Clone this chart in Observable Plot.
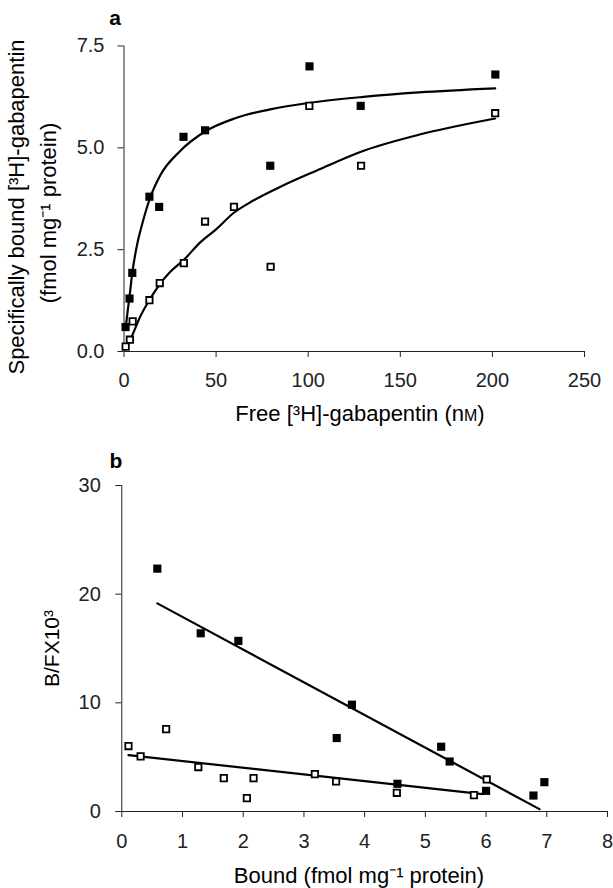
<!DOCTYPE html>
<html>
<head>
<meta charset="utf-8">
<script src="https://cdn.jsdelivr.net/npm/d3@7"></script>
<script src="https://cdn.jsdelivr.net/npm/@observablehq/plot@0.6"></script>
<style>
  html, body { margin: 0; padding: 0; background: #fff; }
  #chart { width: 613px; height: 888px; position: relative; overflow: hidden; }
  #chart svg { display: block; }
</style>
</head>
<body>
<div id="chart"></div>
<script>
// ---------- Panel a: saturation binding ----------
const freeFilled  = [0.85, 3.0, 4.5, 13.8, 19.1, 32.3, 44.0, 79.4, 100.7, 128.5, 201.6];
const boundFilled = [0.6, 1.3, 1.93, 3.8, 3.55, 5.27, 5.43, 4.56, 7.0, 6.03, 6.8];
const freeOpen    = [0.9, 3.2, 4.7, 13.8, 19.4, 32.5, 44.0, 59.7, 79.6, 100.6, 128.7, 201.5];
const boundOpen   = [0.12, 0.29, 0.74, 1.26, 1.68, 2.17, 3.19, 3.55, 2.08, 6.03, 4.56, 5.85];

// fitted curves
const curveFilledF = [0.85, 2, 3, 4.5, 7, 10, 14, 20, 30, 44, 60, 80, 100, 130, 160, 201.5];
const curveFilledB = [0.55, 1.0, 1.35, 1.93, 2.6, 3.15, 3.75, 4.35, 4.9, 5.4, 5.72, 5.95, 6.1, 6.25, 6.36, 6.46];
const curveOpenF   = [3.0, 5, 8, 14, 19.4, 25, 32.5, 41.4, 50, 59.5, 70, 86.6, 105, 128.3, 160, 201.5];
const curveOpenB   = [0.25, 0.45, 0.78, 1.28, 1.65, 1.95, 2.25, 2.68, 3.0, 3.4, 3.7, 4.08, 4.45, 4.9, 5.32, 5.72];

const xTicksA = [0, 50, 100, 150, 200, 250];
const yTicksA = [0, 2.5, 5, 7.5];

// ---------- Panel b: Scatchard ----------
const scatBoundFilled = [0.585, 1.30, 1.92, 3.54, 3.79, 4.54, 5.26, 5.40, 6.0, 6.78, 6.96];
const scatRatioFilled = [22.35, 16.4, 15.7, 6.76, 9.83, 2.55, 5.96, 4.6, 1.9, 1.47, 2.7];
const scatBoundOpen   = [0.11, 0.31, 0.73, 1.26, 1.68, 2.06, 2.17, 3.18, 3.53, 4.53, 5.80, 6.01];
const scatRatioOpen   = [6.02, 5.07, 7.58, 4.09, 3.07, 1.23, 3.07, 3.44, 2.76, 1.72, 1.51, 2.95];

const fitFilledX = [0.585, 6.88];
const fitFilledY = [19.15, 0.22];
const fitOpenX   = [0.11, 5.94];
const fitOpenY   = [5.19, 1.6];

const xTicksB = [0, 1, 2, 3, 4, 5, 6, 7, 8];
const yTicksB = [0, 10, 20, 30];

const FONT = "'Liberation Sans', Arial, Helvetica, sans-serif";
const INK = "#222";
const zip = (xs, ys) => xs.map((x, i) => ({x, y: ys[i]}));

function squares(data, filled) {
  return filled
    ? Plot.dot(data, {x: "x", y: "y", symbol: "square", r: 4.6, fill: "#000", stroke: "none"})
    : Plot.dot(data, {x: "x", y: "y", symbol: "square", r: 3.6, fill: "#fff", stroke: "#000", strokeWidth: 1.8});
}

function addText(svg, {x, y, rotate = 0, anchor = "middle", size = 22, weight = "normal", parts}) {
  const t = d3.select(svg).append("text")
    .attr("transform", `translate(${x},${y})` + (rotate ? ` rotate(${rotate})` : ""))
    .attr("text-anchor", anchor)
    .attr("font-family", FONT)
    .attr("font-size", size)
    .attr("font-weight", weight)
    .attr("fill", "#000");
  for (const p of parts) {
    const s = t.append("tspan").text(p.t);
    if (p.size) s.attr("font-size", p.size);
  }
  return t;
}

// Panel a
const svgA = Plot.plot({
  width: 613, height: 440,
  marginTop: 45.5, marginBottom: 89, marginLeft: 123.5, marginRight: 29,
  style: {fontFamily: FONT, fontSize: "20px", color: INK, background: "#fff", overflow: "visible"},
  x: {domain: [0, 250], ticks: xTicksA, tickSize: 6, tickPadding: 15, label: null},
  y: {domain: [0, 7.5], ticks: yTicksA, tickFormat: d3.format(".1f"), tickSize: 6, tickPadding: 13.5, label: null},
  marks: [
    Plot.ruleX([0], {stroke: INK, strokeWidth: 1}),
    Plot.ruleY([0], {stroke: INK, strokeWidth: 1}),
    Plot.line(zip(curveFilledF, curveFilledB), {x: "x", y: "y", curve: "monotone-x", stroke: "#000", strokeWidth: 2.2}),
    Plot.line(zip(curveOpenF, curveOpenB), {x: "x", y: "y", curve: "monotone-x", stroke: "#000", strokeWidth: 2.2}),
    squares(zip(freeOpen, boundOpen), false),
    squares(zip(freeFilled, boundFilled), true)
  ]
});
addText(svgA, {x: 115, y: 25, size: 21, weight: "bold", parts: [{t: "a"}]});
addText(svgA, {x: 24, y: 207, rotate: -90, parts: [{t: "Specifically bound [³H]-gabapentin"}]});
addText(svgA, {x: 56, y: 213, rotate: -90, parts: [{t: "(fmol mg⁻¹ protein)"}]});
addText(svgA, {x: 360, y: 421, parts: [{t: "Free [³H]-gabapentin (n"}, {t: "M", size: 16}, {t: ")"}]});

// Panel b
const svgB = Plot.plot({
  width: 613, height: 448,
  marginTop: 45, marginBottom: 77, marginLeft: 121.3, marginRight: 6,
  style: {fontFamily: FONT, fontSize: "20px", color: INK, background: "#fff", overflow: "visible"},
  x: {domain: [0, 8], ticks: xTicksB, tickSize: 6, tickPadding: 16, label: null},
  y: {domain: [0, 30], ticks: yTicksB, tickSize: 6, tickPadding: 15, label: null},
  marks: [
    Plot.ruleX([0], {stroke: INK, strokeWidth: 1}),
    Plot.ruleY([0], {stroke: INK, strokeWidth: 1}),
    Plot.line(zip(fitFilledX, fitFilledY), {x: "x", y: "y", stroke: "#000", strokeWidth: 2.2}),
    Plot.line(zip(fitOpenX, fitOpenY), {x: "x", y: "y", stroke: "#000", strokeWidth: 2.2}),
    squares(zip(scatBoundOpen, scatRatioOpen), false),
    squares(zip(scatBoundFilled, scatRatioFilled), true)
  ]
});
addText(svgB, {x: 116, y: 28, size: 21, weight: "bold", parts: [{t: "b"}]});
addText(svgB, {x: 58.5, y: 208.5, rotate: -90, size: 21, parts: [{t: "B/FX10³"}]});
addText(svgB, {x: 359, y: 443, parts: [{t: "Bound (fmol mg⁻¹ protein)"}]});

const chart = document.getElementById("chart");
chart.appendChild(svgA);
chart.appendChild(svgB);
</script>
</body>
</html>
